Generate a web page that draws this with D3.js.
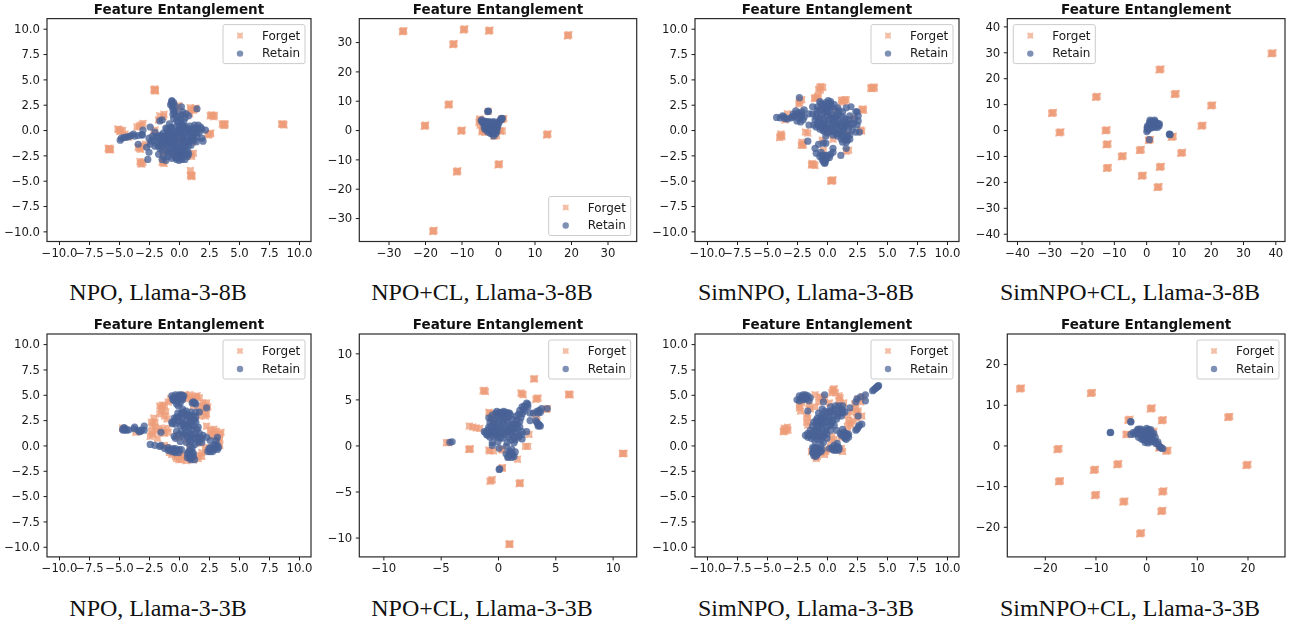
<!DOCTYPE html>
<html>
<head>
<meta charset="utf-8">
<script src="https://cdnjs.cloudflare.com/ajax/libs/d3/7.8.5/d3.min.js"></script>
<style>
  html, body { margin: 0; padding: 0; background: #fff; }
  svg { display: block; }
</style>
</head>
<body>
<svg id="chart" width="1292" height="626"></svg>
<script>
const captions = [
  "NPO, Llama-3-8B", "NPO+CL, Llama-3-8B", "SimNPO, Llama-3-8B", "SimNPO+CL, Llama-3-8B",
  "NPO, Llama-3-3B", "NPO+CL, Llama-3-3B", "SimNPO, Llama-3-3B", "SimNPO+CL, Llama-3-3B"
];
const limits = [11, 38, 11, 43, 11, 12.1, 11, 27.4];
const halfTicks = [-10, -7.5, -5, -2.5, 0, 2.5, 5, 7.5, 10];
const tens30 = [-30, -20, -10, 0, 10, 20, 30];
const tens40 = [-40, -30, -20, -10, 0, 10, 20, 30, 40];
const fives = [-10, -5, 0, 5, 10];
const tens20 = [-20, -10, 0, 10, 20];
const tickSets = [halfTicks, tens30, halfTicks, tens40, halfTicks, fives, halfTicks, tens20];
const tickFormats = [".1f", "d", ".1f", "d", ".1f", "d", ".1f", "d"];
const legendCorners = ["ur", "lr", "ur", "ul", "ur", "ur", "ur", "ur"];

const forgetNpo8 = [[-2.05,4],[-2,4.05],[-2.1,3.95],[-1.95,3.9],[-2,3.85],[-5.8,-1.9],[-5.75,-1.8],[-5.85,-1.95],[-5.7,-1.95],[-5.9,-1.8],[-5.1,0.1],[-5,0.05],[-4.7,-0.05],[-4.85,-0.05],[-4.95,-0.15],[-3.5,0.3],[-3.3,0.4],[-3,0.65],[-3.15,0.5],[-3.2,-3.3],[-3,-3.2],[-3.1,-3.35],[-3.25,-3.1],[-3.3,-1.8],[-3.2,-1.9],[-3.05,-1.6],[-3.4,-1.7],[-1.6,1.4],[-1.3,1.3],[-1.25,1.55],[-1.7,1],[2.8,1.4],[2.6,1.4],[2.95,1.45],[2.7,1.5],[2.9,1.3],[3.7,0.5],[3.8,0.45],[3.6,0.6],[3.75,0.6],[3.85,0.6],[8.6,0.55],[8.7,0.6],[8.55,0.6],[8.75,0.5],[2.4,-0.4],[2.6,-0.4],[2.45,-0.5],[2.65,-0.3],[1,-4.4],[0.95,-4],[1.1,-4.5],[0.95,-4.5],[1.05,-4.6],[1,2],[1.3,2.1],[0.95,2.2],[1.4,2.15],[1.2,1.95],[1,-2.4],[1.2,-2.3],[1.05,-2.6],[1.1,-1.2],[1,-1],[-1.4,-3.2],[-1.3,-3.1],[-1.25,-3.3],[-1.4,-2.1],[-1.3,-2.3],[-0.5,2.5],[0,2.4],[-0.2,2.2],[0.2,-0.5],[-2,0],[-2.1,-0.3],[-0.9,-0.5],[-4.5,-0.4],[-4.2,-0.7],[0.3,1.5],[0.9,1.6],[1.5,0.2],[-2.8,-1.4]];
const retainNpo8 = [[-4.9,-1],[-4.8,-0.8],[-4.6,-0.75],[-4.4,-0.7],[-4.2,-0.65],[-4,-0.55],[-3.8,-0.4],[-3.7,-0.6],[-3.4,-0.55],[-3.1,-0.45],[-3.05,-0.5],[-3,0],[-3.4,-1.4],[-2.4,0.3],[-2.5,-0.8],[-2.3,-1.1],[-2.4,-1.4],[-2,-1.6],[-2.7,-1.7],[-2.5,-2.2],[-2.6,-2.9],[-1.7,-2.4],[-1.5,-1.5],[-1.3,-2.6],[-1.4,-2.9],[-1.1,-3],[-0.9,-2.6],[-1.6,-1],[-1.9,-0.7],[-1.5,-0.5],[-1.4,1],[-1.6,0.9],[-1.1,0.2],[-0.8,0.6],[-0.6,2.8],[-0.6,2.6],[-0.55,2.3],[-0.5,2],[-0.4,1.8],[-0.3,1.5],[0.2,1.5],[0.5,1.2],[0.3,1.8],[0.6,1.6],[0.2,2.3],[1.5,2.1],[0.8,1.4],[-0.2,0.9],[0.2,0.6],[0.5,0.3],[0.9,0.4],[1.3,0.5],[1.6,0.5],[1.9,0.1],[2.2,0],[1.7,-0.2],[1.9,-0.8],[2,-1.1],[1.5,-0.7],[1,-0.5],[-1,-0.5],[-0.7,-0.2],[-0.5,-0.8],[-0.2,-0.4],[0,-0.2],[0.3,-0.5],[0.1,-1],[-0.3,-1.2],[-0.7,-1.3],[-1,-1.1],[-0.5,-1.7],[-0.1,-1.7],[0.3,-1.5],[0.6,-1.2],[0.6,-0.7],[-0.1,-2.2],[0.2,-2.3],[0.4,-2.5],[0.6,-2],[0.1,-2.7],[-0.2,-2.9],[0.5,-2.9],[-0.4,-2.5],[1.1,-0.9],[1.3,-0.3],[-2.2,-0.6],[-2.1,-1],[-1.8,-1.3],[-1.6,-1.8],[-1.2,-1.4],[-1.2,-0.9],[-1.3,-0.3],[-0.9,-0.2],[-1,0.1],[-0.6,0.2],[-0.3,0.3],[0,0.4],[0.3,0.2],[0.6,0],[0.9,-0.2],[1.2,-0.6],[1.5,-0.3],[1.3,0.2],[0.8,-0.8],[0.3,-0.9],[-0.1,-0.7],[-0.4,-0.3],[-0.8,-0.8],[-0.2,-1.5],[-0.5,-1.3],[-0.9,-1.6],[-1.1,-2],[-0.8,-2.1],[-0.5,-2.2],[-0.2,-2.5],[0.1,-2.1],[0.3,-1.9],[0.5,-1.6],[0.8,-1.5],[0.8,-2.4],[0,-3],[-0.3,-2.7],[0.7,-2.6],[-0.6,2.9],[-0.45,2.7],[-0.7,2.5],[-0.35,2.4],[-0.3,1.9],[-0.1,1.3],[0.15,1.1],[0.4,0.8],[0.1,0.1],[-2,-0.2],[-1.7,-0.6],[-1.4,-0.7],[-1.1,-0.6],[-0.75,-0.5],[-0.45,-0.55],[-0.15,-0.1],[0.15,-0.25],[0.45,-0.25],[0.8,0],[1.1,0.1],[1.5,0.1],[1.8,0.3],[-1.75,-1.55],[-1.4,-1.2],[-1.05,-1.35],[-0.75,-1.05],[-0.35,-0.95],[0.05,-1.3],[0.4,-1.15],[0.85,-1.1],[1.25,-1.05],[1.45,-1.15],[-1.4,-1.95],[-0.9,-2.3],[-0.65,-1.85],[-0.3,-1.95],[-0.05,-1.95],[0.25,-2.55],[0.5,-2.35],[0.35,-2.1],[-0.15,-2.7],[-0.6,-2.8],[0.25,-2.9],[0.75,-2.15],[-0.05,0.8],[0.35,0.45],[0.75,0.15],[-0.5,1.55],[-0.45,1.15],[-0.7,0.3],[1,-1.5]];

const forgetNpoCl8 = [[-26,33.7],[-26.2,33.5],[-25.8,33.9],[-9.3,34.3],[-9.5,34.1],[-9.1,34.5],[-2.4,33.9],[-2.6,33.7],[-2.2,34.1],[19.2,32.3],[19,32.1],[19.4,32.5],[-12.2,29.3],[-12.4,29.1],[-12,29.5],[-13.5,8.7],[-13.7,8.5],[-13.3,8.9],[-20,1.5],[-20.2,1.3],[-19.8,1.7],[-10,-0.2],[-10.2,-0.4],[-9.8,0],[13.5,-1.5],[13.3,-1.7],[13.7,-1.3],[0.2,-11.7],[0,-11.9],[0.4,-11.5],[-11.2,-14.1],[-11.4,-14.3],[-11,-13.9],[-17.7,-34.4],[-17.9,-34.6],[-17.5,-34.2],[-5,3.4],[-4.9,1.7],[1,3.8],[1.2,3.6],[0.7,-0.4],[0.5,-0.2],[-0.9,-1.9],[-1.1,-2.1],[-4.1,-0.2],[-4.3,0],[-2.7,6.4],[-5.2,2.6],[-4.4,-0.6],[-3.6,-0.8],[-0.4,-1.9],[1.6,3.9],[1.2,-0.3],[-5,3.8]];
const retainNpoCl8 = [[-2.7,6.4],[-2.8,6.3],[-4.6,3.2],[-4.3,2.7],[-3.9,2.2],[-3.5,1.7],[-3,1.5],[-2.5,1.9],[-2,1.8],[-3,0.8],[-2.5,0.3],[-2,-0.3],[-1.6,-1.1],[-1.3,0],[-1,0.8],[-1.8,0.7],[-0.7,0.2],[-0.3,1.5],[0.3,2.6],[0.8,3.4],[1,3.8],[-1.4,-1.3],[-4.4,3.5],[-4,2.8],[-3.6,2.4],[-3.2,2.1],[-2.8,2.2],[-2.2,2.3],[-1.6,2.1],[-1.2,1.4],[-0.8,1.2],[-2.8,1.2],[-3.4,1.1],[-2.4,1],[-1.9,0],[-1.4,0.8],[-1,-0.5],[-0.4,0.6],[-1.2,-0.9],[-0.1,1],[0.5,3.3],[0.9,3.9],[1.2,4],[-2,1.2],[-1.6,-0.5],[-2.2,0.6],[-2.65,6.45],[-3.5,3],[-3,2.8],[-2.5,2.9],[-1.5,2.8],[-0.9,2.2],[-0.5,2.4],[-3.8,1],[-3.6,0.3],[-3,0],[-2.8,-0.7],[-2,-1.2],[-1.2,-2],[-0.6,-1.2],[-0.3,-0.4],[0,1.8],[-1,2.8],[-2,2.5]];

const forgetSim8 = [[-0.6,4.2],[-0.7,4],[-0.5,4.3],[-0.55,3.95],[-0.35,4.2],[3.7,4.2],[3.9,4.25],[3.8,4.1],[3.95,4.15],[3.65,4.1],[-1,3.2],[-0.8,3.3],[-1.05,3.1],[-0.85,3.15],[-0.7,3.3],[-2.3,2.7],[-2.1,3],[-2.35,2.55],[-2.25,2.9],[1.3,2.9],[1.5,2.85],[1.2,2.95],[1.45,3],[1.25,2.75],[1.6,3],[3,2.1],[2.9,2],[3.05,1.95],[-3.9,-0.6],[-3.8,-0.5],[-3.95,-0.75],[-3.75,-0.65],[-3.85,-0.4],[-2,-1.4],[-2.1,-1.2],[-2.15,-1.5],[-2,-1.5],[-1.2,-3.4],[-1.1,-3.4],[-1.3,-3.45],[-1,-3.5],[-1.25,-3.3],[0.4,-5],[0.45,-5],[0.35,-5.05],[0.5,-4.9],[0.3,-5],[1.6,-2.1],[1.8,-2],[-1.8,-0.2],[-1.6,-0.3],[-3.5,1],[-3.3,1.6],[2.9,-0.1],[2.8,0],[0,1.8],[0.7,2],[-0.3,-2],[0.5,-0.9],[-0.4,-1],[-2.6,1.5],[2.2,1.2],[1.7,-0.4]];
const retainSim8 = [[-4.2,1.25],[-3.9,1.2],[-3.6,1.3],[-3.3,1.1],[-3,1.2],[-2.7,1.4],[-2.6,1.9],[-2.3,3.2],[-2.2,1.4],[-1.9,2],[-1.9,1.3],[-2.2,0.8],[-1.5,0.5],[-1.6,-1.1],[-1,-1.8],[-0.9,-2.3],[-0.7,-1.4],[-0.3,-1.3],[-0.1,-1.3],[-1.2,2.3],[-0.8,2.3],[-0.5,2.6],[-0.1,2.7],[0.3,2.8],[-0.1,2.3],[0.4,2.3],[0.7,1.9],[1,1.5],[1.3,1.3],[1.6,2.2],[2,2.3],[2.5,1.8],[2.3,1.1],[2.6,0.9],[2.5,0.5],[2.7,-0.2],[2,0.6],[1.8,1],[1.6,0.4],[1.4,0.1],[1.7,-0.5],[1.9,-0.9],[1.5,-0.9],[1.3,-1.2],[1.6,-1.8],[1.15,-2.5],[-0.2,1.8],[0,1.4],[-0.6,1.2],[-0.8,0.6],[-0.5,0.3],[-0.2,0.8],[0.2,1],[0.5,0.7],[0.8,0.4],[0.3,0.2],[-0.1,0.2],[0,-0.3],[0.6,-0.2],[1,-0.1],[0.5,-1.8],[0.5,-0.5],[-0.1,-0.6],[-0.6,-2.6],[-0.3,-2.7],[-0.2,-3.3],[0,-2.5],[0.3,-2.4],[0.5,-2.2],[-1.5,1.6],[-1.2,1.6],[-1,1],[-1.1,0.5],[-0.6,0.1],[-0.3,0],[-0.4,0.6],[-0.3,1.1],[-0.4,1.5],[-0.6,1.9],[-0.2,2.1],[0.2,2.2],[0.1,1.7],[0.4,1.5],[0.5,1.2],[0.9,1],[0.4,0.5],[0.7,0.1],[1.1,0.7],[1.4,0.8],[1.7,0.7],[2.1,0],[1.1,-0.4],[1.3,-0.6],[1.7,-1],[1.4,-0.1],[0.9,-0.6],[0.2,-0.2],[-0.3,-0.1],[0.3,2.6],[-0.3,2.5],[0.1,2.9],[0.2,2.5],[-0.1,-2.9],[-0.4,-2.5],[-0.2,-2.5],[0,-2.8],[2.4,1.8],[2.6,1.4],[-2.9,1.3],[-3.7,1.4],[-2.4,1.7],[-2.1,1.8],[-2,1],[-2.5,0.9],[0.8,1.4],[1,1.9],[1.8,0.2],[-0.7,0.9],[-0.9,1.3],[-0.9,1.6],[-0.8,2],[-0.4,2.1],[0.6,2.5],[0.9,2.2],[1.3,1.8],[1.5,1.1],[1.9,1.4],[2.2,0.6],[2.4,-0.2],[0.1,1.9],[0.3,1.2],[0.7,1.2],[1,0.5],[1.2,0.3],[1.5,0.5],[0.1,0.6],[-0.2,0.5],[-0.6,0.4],[-0.9,0.3],[0,0.1],[0.4,-0.1],[0.8,-0.4],[1.2,-0.9],[1.6,-0.7],[1.9,-0.5],[1.6,-1.2],[1.2,-0.2],[-2.4,1.2],[-2.1,1.5],[-2.8,1.6],[-3.5,1.15],[-0.4,-2.9],[-0.3,-3.1],[-0.15,-3.2],[0.2,-2.7],[-0.5,-2.2],[0.7,0.7],[-0.6,2.8]];

const forgetSimCl8 = [[39,29.6],[38.7,29.4],[39.3,29.8],[4.3,23.4],[4,23.2],[4.6,23.6],[9,13.9],[8.7,13.7],[9.3,14.1],[-15.4,12.8],[-15.7,12.6],[-15.1,13],[20.3,9.5],[20,9.3],[20.6,9.7],[-29,6.6],[-29.3,6.4],[-28.7,6.8],[17.3,1.7],[17,1.5],[17.6,1.9],[-26.7,-0.9],[-27,-1.1],[-26.4,-0.7],[-12.4,-0.1],[-12.7,-0.3],[-12.1,0.1],[8.1,-2.6],[7.8,-2.8],[8.4,-2.4],[1,-3.8],[0.7,-4],[1.3,-3.6],[-12.1,-5.5],[-12.4,-5.7],[-11.8,-5.3],[-1.8,-7.7],[-2.1,-7.9],[-1.5,-7.5],[11,-8.8],[10.7,-9],[11.3,-8.6],[-7.4,-10.1],[-7.7,-10.3],[-7.1,-9.9],[-12,-14.6],[-12.3,-14.8],[-11.7,-14.4],[4.4,-14.2],[4.1,-14.4],[4.7,-14],[-1.2,-17.6],[-1.5,-17.8],[-0.9,-17.4],[3.7,-22],[3.4,-22.2],[4,-21.8]];
const retainSimCl8 = [[1,-3.7],[7.3,-1.7],[7.2,-1.6],[7.4,-1.8],[0.3,0.8],[0.5,0],[0.4,1.5],[1,2.5],[1.2,3.2],[2,3.4],[2.8,3.3],[3.5,2.6],[4,1.6],[3.5,1],[2.6,1],[1.5,0.8],[1.2,1.8],[2.3,2.2],[0.7,0.3],[3.2,1.8],[1.5,2.4],[2,1.4],[2.8,2],[3.3,2.4],[1.7,3],[2.4,3.2],[0.8,1],[0.9,1.7],[3.8,2.1],[2.5,1.6],[0.5,0.5],[0.2,-0.6],[1.2,3.8],[2.6,3.8],[4.1,2.4]];

const forgetNpo3 = [[-1.5,3.7],[-1.2,3.9],[-0.9,4.3],[-1.1,3.3],[-1.2,2.9],[-2,2.3],[-2,1.8],[-2.1,2.7],[-2.4,0.9],[-1.6,1.7],[-1.2,1.2],[-0.9,1.3],[0.5,5],[1.4,4.8],[1.5,4.9],[1.1,4.6],[0.6,4.6],[2.3,4.2],[2.2,3.9],[2.3,3.1],[1.9,3.4],[1.2,3.9],[2.3,1.9],[2.6,1.5],[3.1,1.4],[3.4,1.1],[3.4,0.7],[3.4,0],[2.3,-0.2],[1.9,-0.7],[1.7,-1],[0.2,-1.1],[0.2,-1.4],[0.6,-1.5],[1.6,-1.3],[-0.6,-0.9],[-0.3,-1.1],[-1.2,0],[0,0.8],[0.7,0.5],[1.8,0.2],[-4.7,1.7],[-3.6,1.3],[-0.5,4.5],[-1.6,3.9],[-1,2.6],[-2.2,2],[-2.3,1.4],[2,4.2],[0.9,5],[-1.8,0.7],[2.8,0.9],[-1.4,3.4],[-1.35,4],[-0.7,4.6],[0.9,4.8],[1.7,4.7],[1.2,4.4],[2.1,3.6],[2.2,2.9],[1.7,2.9],[2.7,1.2],[3,1],[3.5,1.3],[2.9,1.6],[3.3,0.3],[-2.2,1.1],[-2.3,2.3],[-1.9,1.4],[-1.4,1.5],[-1,1.7],[0.3,-0.9],[0.7,-1.2],[1.2,-1.4],[1.9,-1.1],[2.2,-0.5],[-0.8,-0.7],[-1,-0.2],[-0.2,1],[0.6,1],[1.8,0.6],[0.9,-0.2],[1.7,3.9],[2.4,3.8],[-1.6,3.1],[-0.2,-1.3],[0,-1.4]];
const retainNpo3 = [[-4.7,1.6],[-4.5,1.55],[-4.2,1.55],[-3.7,1.8],[-3.4,1.5],[-3.2,1.4],[-2.9,1.5],[-2.9,1.9],[-1.5,1.3],[-2.4,0.1],[-2,0],[-1.6,-0.1],[-1.2,-0.3],[-0.8,-0.4],[-0.4,-0.6],[-0.1,-0.5],[0.2,-0.4],[-0.5,4.7],[-0.3,5],[0,5],[0.3,4.7],[-0.1,4.5],[0.2,5],[1.1,4.2],[1.3,4.2],[2.3,3.7],[1.4,3.3],[1.7,3.3],[2.4,-0.6],[2.7,-0.4],[3,-0.3],[3.2,0],[3.2,-0.4],[2.9,0],[3.2,0.8],[2.6,0.5],[2,1],[1.9,0.7],[1.6,0.8],[1.4,1.2],[1.1,1.6],[1,0.9],[1,0.4],[0.8,-0.9],[1,-1.4],[1.2,-1.1],[1.1,-0.6],[0.6,0.3],[0.3,0.9],[0,1.1],[-0.4,0.9],[-0.6,2.3],[-0.3,2.1],[0,2.4],[0.3,2.7],[0.6,2.4],[0.9,2.7],[1.4,2.3],[1.6,1.8],[1,2],[0.5,1.7],[-0.1,3.2],[0.2,3.2],[-0.05,3.9],[0.7,3],[1.2,2.9],[-0.4,4.4],[-0.6,4.9],[-0.2,4.8],[0,4.7],[0.3,4.5],[0.1,4.2],[-0.2,4.1],[1,3.3],[0.6,3.4],[0.3,3.6],[-0.4,2.7],[-0.2,2.8],[0.3,2.2],[0.6,2],[0.9,2.3],[1.2,1.9],[1.4,2.8],[0.2,1.4],[0.6,1.3],[0.9,1.2],[1.2,0.7],[0.8,0.6],[1.3,0.1],[1.6,0.3],[1.9,0.3],[1.1,-0.2],[0.9,-1.1],[1,-1.2],[0.7,-1.2],[1.3,-1.4],[0.9,-0.5],[2.5,-0.3],[2.8,-0.6],[3,0.1],[3.1,0.5],[2.3,0.8],[1.7,1.2],[-0.5,-0.3],[-0.6,-0.6],[-0.3,-0.3],[0,-0.7],[-0.9,-0.2],[-1.5,0],[-4.6,1.75],[-4.35,1.5],[-3.1,1.55],[-0.3,0.7],[-0.2,1.4],[0.1,0.4],[-0.5,4.5],[-0.3,4.6],[0.1,4.9],[0.3,4.9],[0.4,4.9],[0.4,3.3],[0.6,3],[0.9,3],[1.1,2.5],[0.8,1.8],[0.4,2],[0.1,2],[0.4,1.1],[0.7,0.9],[1.1,1.1],[1.4,0.7],[1.5,1.6],[1.7,0.5],[1.3,2.5],[1.1,-1],[0.9,-1.3],[1,-0.9],[0.8,-0.6],[1.2,-0.8],[0.7,-0.8],[0.9,0],[2.6,-0.6],[2.9,-0.4],[3.1,-0.2],[3.3,-0.2],[2.6,-0.2],[-0.6,-0.4],[-0.2,-0.5],[0,-0.4],[-0.3,-0.7],[-0.9,-0.5],[1.4,4.1],[1.2,4.3],[-0.1,2.7],[0.2,3],[-0.4,2.4],[-0.55,2.15],[-4.5,1.7],[-4.65,1.5],[-3.75,1.65],[-3.3,1.35]];

const forgetNpoCl3 = [[3.1,7.2],[3.2,7.25],[-1.3,5.9],[-1.2,6],[-1.1,5.85],[2.1,5.6],[2,5.7],[2.2,5.5],[3.4,5.1],[3.3,5],[3.5,5.15],[6.2,5.6],[6.3,5.5],[6.15,5.5],[4.3,4],[4.2,3.9],[-0.7,3.5],[-0.8,3.6],[-0.5,3.4],[-2.5,2.1],[-2.2,2],[-1.9,1.9],[-1.6,1.85],[-4.5,0.3],[-4.3,0.3],[-2.5,-0.4],[-2.4,-0.35],[-2.55,-0.45],[-0.7,-0.6],[-0.8,-0.5],[-0.4,-0.6],[0.4,-0.5],[0.3,-0.4],[2.4,-0.1],[2.6,-0.1],[2.7,1.2],[3.4,2.7],[3.3,3.4],[10.9,-0.9],[11,-0.85],[10.85,-0.85],[1.7,-1.5],[0.4,-2.4],[0.35,-2.5],[-0.6,-3.8],[-0.7,-3.9],[-0.5,-3.7],[1.9,-4.1],[1.85,-4.15],[1.95,-4.05],[1,-10.7],[1.05,-10.7],[0.95,-10.75]];
const retainNpoCl3 = [[-4.2,0.35],[-4,0.4],[0.1,-2.6],[0.15,-2.55],[-0.5,0],[0.1,-0.3],[-0.5,0.3],[0.9,-1.2],[1.2,-1.3],[1.5,-0.7],[1.2,-0.4],[0.7,-0.1],[0.8,0.3],[-1.2,1.5],[-1,1.2],[-0.8,2],[-0.7,2.5],[-0.5,3.3],[-0.2,3.5],[0.2,3.6],[0.7,3.6],[1.1,3.3],[1.3,2.8],[0.3,3],[0,2.5],[0.5,2.5],[1,2.2],[0.2,1.8],[0.7,1.5],[0,1.2],[0.9,0.9],[-0.4,1.4],[1.4,1.8],[1.7,2.3],[2,3],[2.2,3.9],[2.3,4.3],[2.5,4.6],[2.6,4.2],[2.8,3.5],[3.1,3.5],[3.4,2.5],[3.5,2.3],[3.7,2.1],[3.6,3.8],[3.8,4],[4.3,4],[2.8,2.7],[2.5,1.5],[2.1,1.2],[1.8,1.1],[2.1,0.7],[1.4,0.9],[-0.9,1.7],[-0.6,1.5],[-0.3,2],[-0.3,2.7],[0,3.2],[0.5,3.3],[0.9,3],[0.8,2.6],[0.3,2.2],[0.5,1.9],[-0.1,1.7],[0.3,1.3],[0.6,1.2],[1,1.6],[1.2,1.2],[1.5,1.5],[-0.8,3],[-0.6,2.9],[0.1,3.5],[1,3.5],[1.3,2.3],[1.7,1.8],[1.9,2.6],[2.1,3.4],[2.3,3.7],[2.6,4.5],[0.7,-0.9],[1,-0.9],[1.3,-1],[-0.9,1.1],[-0.1,0.9],[0.4,0.8],[3.5,3.5],[3.55,2.3],[-0.7,1.3],[-0.7,0.9],[-0.4,1],[-0.2,1.2],[0.1,1.5],[0.2,0.8],[0.5,1.5],[0.8,1.8],[1.2,1.5],[1.1,2],[1.5,2.3],[1.6,2.7],[1.9,2],[1.6,3.2],[1.8,3.4],[1.9,3.8],[2.1,4.2],[2.4,4.2],[0.5,2.8],[0.7,3.1],[-0.4,2.4],[-0.1,2.2],[0,2.9],[0.4,3.6],[-0.1,3.7],[0.5,3.7],[0.9,3.5],[-0.6,2.1],[-0.4,1.7],[0,0.4],[-1.1,1.4],[1.1,0.6],[1.5,0.6],[1.8,0.9],[2.1,1.5],[1.4,0.3],[1.1,-0.8],[1.4,-1.2],[1.2,-1],[0.85,-1.3],[1,-0.6],[3.5,2.1],[3.6,2.2],[3.3,2.7],[3.7,3.6],[3.4,3.7]];

const forgetSim3 = [[-3.6,1.5],[-3.5,1.4],[-3.3,1.8],[-3.4,1.6],[0.5,5.5],[0.6,5.6],[0.4,5.2],[1,4.9],[1.1,4.7],[-1,5],[-0.6,4.8],[-0.2,4.5],[-2.3,4],[-2.3,3.7],[-1.5,4],[-1,3.8],[-1.6,2.7],[-1.7,2.3],[2.4,3.7],[2.5,3.2],[1.7,3],[1.8,2.5],[2,2],[2.5,2.7],[2.9,2.9],[2.6,4.6],[3,4.8],[-0.9,-1.3],[-1,-1],[-0.5,-0.7],[-0.1,-0.6],[0.3,0.3],[0.4,0.9],[1.2,0.8],[1.7,1.3],[-0.3,1],[1,4],[1.4,4.2],[0.2,4.2],[1.2,-0.3],[-2.2,3.4],[-2.1,4.2],[-1.4,3.6],[-0.7,4.3],[-1.7,3],[-1.6,2],[2.3,4.1],[2.1,3.3],[1.9,2.2],[2.2,2.4],[2.6,3.4],[1.7,1.9],[-1.3,-0.6],[-0.8,-1.1],[-0.2,-0.9],[0.1,-0.4],[0.6,0.6],[0.5,5.4],[0.7,5.2],[1,4.4],[-0.4,4.7],[-3.55,1.7],[-3.65,1.35],[-3.25,1.5],[1.3,-0.6],[2.8,4.3]];
const retainSim3 = [[4.3,5.9],[4.2,5.8],[4,5.6],[3.8,5.4],[3.2,4.4],[3.2,5],[2.8,4.8],[2.5,4.6],[2.4,4.3],[-2.5,4.5],[-2.2,4.6],[-2,5],[-1.8,5],[-1.7,4.6],[-1.5,4.4],[-1.4,4.7],[-0.2,5],[-1.6,3.4],[1.9,3.7],[2.9,2.1],[2.7,2],[2.6,1.8],[2.5,1.6],[2.4,1.5],[2.6,2.9],[-1.8,1],[-1.6,0.8],[-1.4,1.5],[-1.2,1.9],[-1.1,0.9],[-1.1,2.3],[-0.8,2.7],[-0.7,3.2],[-0.4,3.6],[-0.3,4.3],[0,3.3],[0.3,3.8],[0.6,3.6],[0.9,3.2],[1.2,3.6],[1.2,2.9],[0.8,2.6],[0.4,2.2],[0,2.3],[-0.3,2.8],[-0.5,2],[-0.9,1.7],[-0.6,1.3],[-0.3,0.9],[0,0.7],[0.3,1.5],[0.8,1.5],[1.1,1.2],[1.4,0.9],[1.7,1],[1.5,0.7],[1.3,1.6],[-1.1,-0.3],[-1.2,-0.7],[-1.1,-1],[-0.9,-0.5],[-0.7,-0.3],[-0.5,0],[-0.4,-0.4],[-0.3,0.3],[0.4,-0.2],[0.7,-0.4],[0.9,-0.5],[1,-0.2],[0.6,0],[0.2,-0.3],[-1,1.5],[-0.8,1],[-0.9,2.2],[-0.6,2.4],[-0.2,2.2],[0.2,2.8],[0.5,3],[0.2,3.3],[-0.2,3.4],[0.7,3.9],[1,3.9],[1.3,3.2],[-0.7,1.8],[-0.4,1.6],[-0.1,1.5],[-0.6,0.9],[-1.3,1.2],[-1.6,1.2],[-1.15,-0.6],[-1,-0.8],[-0.8,-0.9],[-0.7,-0.7],[-1.2,-0.2],[-0.5,-0.6],[0.8,-0.1],[0.5,-0.4],[1,-0.4],[0.85,0.2],[-2.1,4.8],[-1.9,4.6],[-1.6,4.9],[-2.3,4.4],[1.5,1.1],[1.8,0.8],[1.6,0.6],[1.4,1.3],[-1.3,0.7],[-1,0.4],[-0.8,0.6],[-0.5,0.6],[-0.2,1.2],[0,1.1],[0,1.8],[0.3,2],[0.6,2],[0.5,2.5],[0.9,2.9],[1.1,3.3],[1.3,3.5],[0.6,3.3],[0.3,3.4],[-0.1,2.8],[-0.4,3],[-0.5,2.7],[-0.7,2.2],[-0.9,2.5],[-0.4,2.3],[0.2,2.5],[1.5,3.3],[1.3,3.9],[-1.1,-0.8],[-0.95,-1.1],[-1,-0.2],[-0.8,-0.2],[-0.6,-0.5],[0.8,-0.3],[0.6,-0.5],[0.9,-0.2],[1.5,0.9],[1.2,1],[1.6,1.2],[1.8,1.1],[-0.8,1.4],[-1.5,1],[-1.2,1.1],[-2.3,4.9],[-2,4.5],[-1.75,4.8],[4.1,5.7],[4.25,5.85],[3.9,5.5]];

const forgetSimCl3 = [[-24.8,14],[-25,13.85],[-24.6,14.15],[-10.8,12.9],[-11,12.75],[-10.6,13.05],[1,9.1],[0.8,8.95],[1.2,9.25],[16.3,7],[16.1,6.85],[16.5,7.15],[-3.4,6.3],[-3.6,6.15],[-3.2,6.45],[3.2,6.2],[3,6.05],[3.4,6.35],[-3.8,2.8],[-4,2.65],[-17.4,-0.9],[-17.6,-1.05],[-17.2,-0.75],[4.1,-1.3],[3.9,-1.45],[4.3,-1.15],[2.7,-0.5],[2.5,-0.65],[-5.6,-4.6],[-5.8,-4.75],[-5.4,-4.45],[19.9,-4.8],[19.7,-4.95],[20.1,-4.65],[-10.2,-6],[-10.4,-6.15],[-10,-5.85],[-17.1,-8.8],[-17.3,-8.95],[-16.9,-8.65],[3.3,-11.3],[3.1,-11.45],[3.5,-11.15],[-10,-12.2],[-10.2,-12.35],[-9.8,-12.05],[-4.4,-13.8],[-4.6,-13.95],[-4.2,-13.65],[3.1,-16.1],[2.9,-16.25],[3.3,-15.95],[-1.1,-21.6],[-1.3,-21.75],[-0.9,-21.45],[1.5,3.5]];
const retainSimCl3 = [[-7,3.2],[-7.1,3.15],[-3,5.8],[-3.05,5.85],[-3,2.7],[-2.4,2.8],[-1.7,3.9],[-1.4,3.5],[-1.8,2.8],[-1,2.5],[-0.6,1.5],[-0.2,0.7],[0.2,1.8],[0.2,3.8],[0.5,3.9],[1,3.3],[1.3,2.5],[0.8,1.4],[1.5,1],[2.3,0.9],[-0.3,2.6],[0.2,2.8],[2.6,-0.3],[3,-0.6],[3.3,-0.8],[-2,3.3],[-1.2,3],[-1.6,3.4],[-0.9,3.6],[-0.3,1.4],[0,1.5],[0.4,2.4],[0.7,3],[0,3.2],[-0.5,2.1],[0.6,1.9],[1,0.9],[1.8,0.9],[0.2,1],[2.8,-0.4],[-2.5,3.2],[-1.5,2],[-0.8,3.3],[-0.5,3],[0.9,3.9],[1.5,3],[1.8,2],[1,1.8],[1.4,1.4],[0.4,0.6],[0,2.2],[-0.9,1.5],[-1.5,4],[-1,4],[0.1,4.2],[0.6,2.2],[-0.2,3.6],[2.4,0.3],[1.9,0.5]];

const forgetSets = [forgetNpo8, forgetNpoCl8, forgetSim8, forgetSimCl8, forgetNpo3, forgetNpoCl3, forgetSim3, forgetSimCl3];
const retainSets = [retainNpo8, retainNpoCl8, retainSim8, retainSimCl8, retainNpo3, retainNpoCl3, retainSim3, retainSimCl3];

const colForget = "#ee9c78";
const colRetain = "#486196";
const ink = "#1a1a1a";

const colLeft = [47, 359.3, 695, 1007.3];
const colWidth = [264, 277.4, 264, 277.7];
const rowTop = [18.6, 334];
const rowHeight = 222.9;
const captionX = [158, 482, 806, 1130];
const captionY = [300, 616];

const svg = d3.select("#chart");

// thick x marker: after the blur it reads as a square with notched sides
const notchedSquare = {
  draw(context, size) {
    const a = Math.sqrt(size) / 2;
    const n = a * 0.16;
    context.moveTo(-a, -a);
    context.lineTo(0, -a + n);
    context.lineTo(a, -a);
    context.lineTo(a - n, 0);
    context.lineTo(a, a);
    context.lineTo(0, a - n);
    context.lineTo(-a, a);
    context.lineTo(-a + n, 0);
    context.closePath();
  }
};
const forgetPath = d3.symbol(notchedSquare, 56)();
const legendPath = d3.symbol(notchedSquare, 38)();

captions.forEach((caption, i) => {
  const col = i % 4;
  const row = Math.floor(i / 4);
  const w = colWidth[col];
  const h = rowHeight;

  const x = d3.scaleLinear().domain([-limits[i], limits[i]]).range([0, w]);
  const y = d3.scaleLinear().domain([-limits[i], limits[i]]).range([h, 0]);

  const g = svg
    .append("g")
    .attr("transform", `translate(${colLeft[col]}, ${rowTop[row]})`)
    .style("filter", "blur(0.5px)");

  g.append("rect")
    .attr("width", w)
    .attr("height", h)
    .attr("fill", "#fff");

  const fmt = d3.format(tickFormats[i]);
  const xAxis = g
    .append("g")
    .attr("transform", `translate(0, ${h})`)
    .call(d3.axisBottom(x).tickValues(tickSets[i]).tickFormat(fmt).tickSize(3.5).tickPadding(3.5));
  const yAxis = g
    .append("g")
    .call(d3.axisLeft(y).tickValues(tickSets[i]).tickFormat(fmt).tickSize(3.5).tickPadding(3.5));

  [xAxis, yAxis].forEach(axis => {
    axis.select(".domain").remove();
    axis.selectAll("line").attr("stroke", ink).attr("stroke-width", 1);
    axis
      .selectAll("text")
      .attr("fill", ink)
      .attr("font-family", "DejaVu Sans")
      .attr("font-size", 11.7);
  });

  g.append("g")
    .selectAll("path")
    .data(forgetSets[i])
    .join("path")
    .attr("d", forgetPath)
    .attr("transform", d => `translate(${x(d[0])}, ${y(d[1])})`)
    .attr("fill", colForget)
    .attr("opacity", 0.75);

  g.append("g")
    .selectAll("circle")
    .data(retainSets[i])
    .join("circle")
    .attr("cx", d => x(d[0]))
    .attr("cy", d => y(d[1]))
    .attr("r", 3.6)
    .attr("fill", colRetain)
    .attr("opacity", 0.78);

  g.append("rect")
    .attr("width", w)
    .attr("height", h)
    .attr("fill", "none")
    .attr("stroke", "#2a2a2a")
    .attr("stroke-width", 1.2);

  g.append("text")
    .attr("x", w / 2)
    .attr("y", -5)
    .attr("text-anchor", "middle")
    .attr("font-family", "DejaVu Sans")
    .attr("font-weight", 700)
    .attr("font-size", 13.5)
    .attr("fill", "#111")
    .text("Feature Entanglement");

  // legend box
  const corner = legendCorners[i];
  const boxW = 82;
  const boxH = 39;
  const boxX = corner === "ul" ? 6 : w - boxW - 6;
  const boxY = corner === "lr" ? h - boxH - 6 : 6;
  const legend = g.append("g").attr("transform", `translate(${boxX}, ${boxY})`);
  legend
    .append("rect")
    .attr("width", boxW)
    .attr("height", boxH)
    .attr("rx", 2)
    .attr("fill", "#fff")
    .attr("fill-opacity", 0.8)
    .attr("stroke", "#ccc");
  legend
    .append("path")
    .attr("d", legendPath)
    .attr("transform", "translate(17, 11)")
    .attr("fill", colForget)
    .attr("opacity", 0.65);
  legend
    .append("circle")
    .attr("cx", 17)
    .attr("cy", 29)
    .attr("r", 3.2)
    .attr("fill", colRetain)
    .attr("opacity", 0.7);
  ["Forget", "Retain"].forEach((label, k) => {
    legend
      .append("text")
      .attr("x", 39)
      .attr("y", 15.3 + k * 17.6)
      .attr("font-family", "DejaVu Sans")
      .attr("font-size", 12)
      .attr("fill", ink)
      .text(label);
  });

  svg
    .append("text")
    .attr("x", captionX[col])
    .attr("y", captionY[row])
    .attr("text-anchor", "middle")
    .attr("font-family", "Liberation Serif")
    .attr("font-size", 24)
    .attr("fill", "#111")
    .text(caption);
});
</script>
</body>
</html>
